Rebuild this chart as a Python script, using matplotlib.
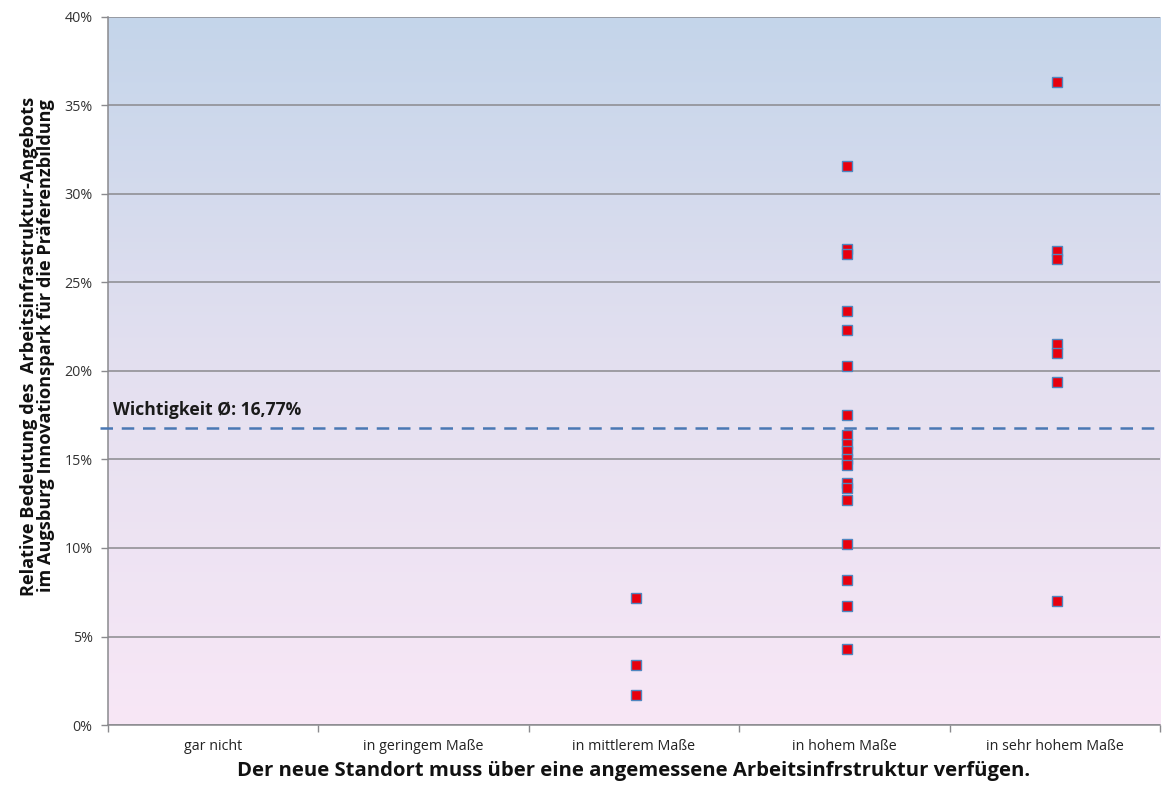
import numpy as np
import matplotlib
matplotlib.use("Agg")
import matplotlib.pyplot as plt
from matplotlib.colors import LinearSegmentedColormap
from matplotlib.ticker import FuncFormatter, FixedLocator

plt.rcParams['font.family'] = ['Open Sans', 'DejaVu Sans']

categories = ["gar nicht", "in geringem Maße", "in mittlerem Maße",
              "in hohem Maße", "in sehr hohem Maße"]

# relative importance (%) per respondent, grouped by answer category
vals_mittel = [7.2, 3.4, 1.7]
vals_hoch = [31.6, 26.9, 26.6, 23.4, 22.3, 20.3, 17.5, 16.4, 15.9, 15.5,
             15.0, 14.7, 13.7, 13.4, 12.7, 10.2, 8.2, 6.7, 4.3]
vals_sehr_hoch = [36.3, 26.8, 26.3, 21.5, 21.0, 19.4, 7.0]
mean_value = 16.77

fig = plt.figure(figsize=(11.64, 7.89), dpi=100)
ax = fig.add_axes([0.0928, 0.0811, 0.9038, 0.8974])

# vertical gradient background: light blue on top, pale pink at the bottom
cmap = LinearSegmentedColormap.from_list("bg", ["#f8e7f6", "#e4e0f0", "#c4d5ea"])
grad = np.linspace(0, 1, 256).reshape(-1, 1)
ax.imshow(grad, cmap=cmap, origin="lower", aspect="auto",
          extent=[0, 1, 0, 1], transform=ax.transAxes, zorder=0)

ax.set_xlim(-0.5, 4.5)
ax.set_ylim(0, 40)

# horizontal gridlines
ax.yaxis.set_major_locator(FixedLocator(np.arange(0, 45, 5)))
ax.yaxis.grid(True, color="#8a8a8e", linewidth=1.1, zorder=1)
ax.set_axisbelow(True)
ax.yaxis.set_major_formatter(FuncFormatter(lambda v, p: f"{int(v)}%"))

groups = [(2, vals_mittel), (3, vals_hoch), (4, vals_sehr_hoch)]
for xpos, vals in groups:
    ax.plot([xpos + 0.01] * len(vals), vals, linestyle="none", marker="s",
            markersize=7, markerfacecolor="#e8000e",
            markeredgecolor="#4f86c0", markeredgewidth=1.0, zorder=4)

# mean line
ax.plot([-0.54, 4.5], [mean_value, mean_value], linestyle=(0, (5, 3.5)),
        color="#4a78b4", linewidth=1.8, zorder=3, clip_on=False)
ax.text(-0.475, mean_value + 0.5, "Wichtigkeit Ø: 16,77%",
        fontsize=12.6, fontweight="bold", color="#1a1a1a",
        ha="left", va="bottom", zorder=5)

# x axis: boundary ticks, labels centred in categories
ax.set_xticks(np.arange(-0.5, 5.0, 1.0))
ax.set_xticklabels([])
ax.set_xticks(np.arange(5), minor=True)
ax.set_xticklabels(categories, minor=True, fontsize=10.3, color="#222222")
ax.tick_params(axis="x", which="major", length=5, color="#8a8a8e", width=1)
ax.tick_params(axis="x", which="minor", length=0, pad=10)
ax.tick_params(axis="y", length=5, color="#8a8a8e", width=1,
               labelsize=10.3, labelcolor="#333333", pad=6)

for side in ["top", "right"]:
    ax.spines[side].set_visible(False)
for side in ["left", "bottom"]:
    ax.spines[side].set_color("#8a8a8e")
    ax.spines[side].set_linewidth(1.1)

ax.set_xlabel("Der neue Standort muss über eine angemessene Arbeitsinfrstruktur verfügen.",
              fontsize=14.6, fontweight="bold", color="#111111", labelpad=5)

fig.text(0.032, 0.5615,
         "Relative Bedeutung des  Arbeitsinfrastruktur-Angebots\n"
         "im Augsburg Innovationspark für die Präferenzbildung",
         rotation=90, fontsize=13.1, fontweight="bold", color="#111111",
         ha="center", va="center", multialignment="center", linespacing=0.95)

fig.savefig("out.png", dpi=100, facecolor="white")
